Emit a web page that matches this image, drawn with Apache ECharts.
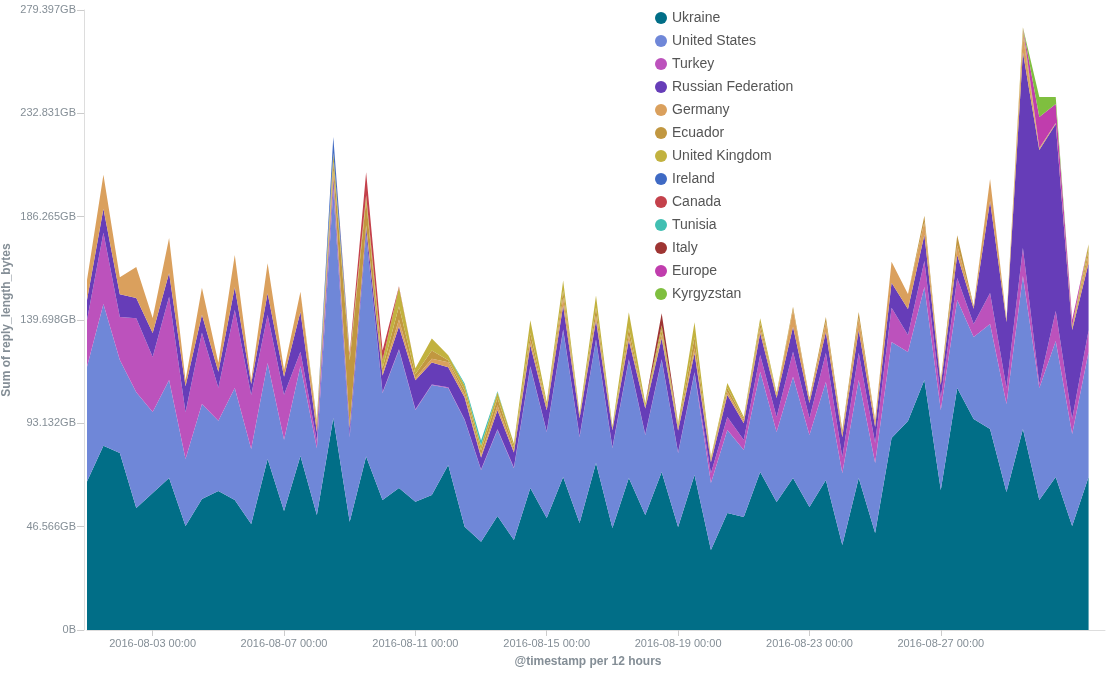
<!DOCTYPE html>
<html lang="en">
<head>
    <meta charset="UTF-8">
    <title>reply_length_bytes by country</title>
    <style>
        html, body { margin: 0; padding: 0; background: #fff; }
        #chart { width: 1109px; height: 676px; }
    </style>
</head>
<body>
<div id="chart"></div>

<script src="https://cdn.jsdelivr.net/npm/echarts@6/dist/echarts.min.js"></script>
<script type="text/javascript">
    // values are in GB (1e9 bytes), one per 12h bucket from 2016-08-01 00:00
    var countries = ['Ukraine', 'United States', 'Turkey', 'Russian Federation', 'Germany', 'Ecuador',
        'United Kingdom', 'Ireland', 'Canada', 'Tunisia', 'Italy', 'Europe', 'Kyrgyzstan'];
    var colors = ['#016e87', '#6f87d8', '#bc52bc', '#663db8', '#daa05d', '#c19740',
        '#c2b23f', '#3f6ac4', '#c4414b', '#41bfb2', '#9e3533', '#c03dad', '#7fbf3f'];

    var ukraine = [71.8, 89.2, 85.6, 59.0, 66.3, 73.6, 50.3, 63.4, 67.3, 62.9,
        51.3, 82.7, 57.6, 84.2, 55.6, 102.6, 52.4, 83.9, 62.9, 68.7,
        62.1, 65.3, 79.8, 50.0, 42.7, 55.2, 43.5, 68.7, 54.2, 74.0,
        51.8, 80.8, 49.4, 73.6, 55.6, 76.5, 49.8, 75.0, 38.7, 56.6,
        54.7, 76.5, 61.9, 73.6, 59.5, 72.6, 41.1, 73.6, 46.9, 92.9,
        101.1, 121.0, 67.7, 117.1, 102.1, 97.3, 66.8, 97.3, 62.9, 74.0,
        50.3, 74.0];
    var unitedStates = [55.6, 68.6, 45.0, 56.1, 39.2, 47.4, 32.4, 46.0, 33.9, 54.2,
        36.3, 46.5, 34.4, 43.6, 32.4, 110.3, 41.0, 107.3, 51.8, 66.8,
        44.4, 53.2, 37.3, 51.6, 34.7, 41.6, 34.8, 58.6, 41.6, 71.1,
        41.6, 59.5, 38.7, 57.1, 38.7, 54.2, 35.8, 49.4, 32.4, 40.2,
        32.4, 48.4, 33.9, 48.9, 34.8, 47.4, 34.8, 47.4, 33.9, 46.5,
        33.4, 45.0, 38.7, 42.6, 39.7, 50.8, 42.6, 74.0, 54.2, 65.8,
        44.5, 60.5];
    var turkey = [22.6, 34.4, 20.8, 35.8, 26.6, 40.2, 22.7, 34.4, 16.0, 37.7,
        26.1, 23.2, 21.8, 6.8, 3.4, 1.9, 0.3, 0.3, 0.3, 0.3,
        0.3, 0.3, 0.3, 0.3, 0.3, 0.3, 0.3, 0.3, 0.3, 0.3,
        0.3, 0.3, 0.3, 0.3, 0.3, 0.3, 0.3, 0.3, 4.8, 6.3,
        4.8, 8.2, 7.3, 12.1, 8.2, 14.0, 7.7, 13.1, 9.7, 16.5,
        8.2, 12.6, 5.8, 10.6, 6.3, 15.0, 7.7, 13.5, 1.9, 14.5,
        7.3, 10.6];
    var russia = [9.7, 11.6, 11.1, 9.7, 11.6, 11.6, 12.6, 8.7, 7.7, 11.1,
        5.3, 10.6, 8.7, 19.4, 4.4, 3.9, 3.9, 3.4, 8.2, 11.1,
        14.0, 10.6, 9.7, 10.6, 5.8, 9.2, 7.3, 10.2, 10.2, 11.6,
        8.7, 9.2, 8.2, 9.2, 12.6, 10.2, 10.6, 9.2, 5.3, 10.6,
        8.2, 10.6, 9.2, 12.1, 7.3, 10.2, 9.7, 11.1, 7.7, 12.1,
        12.6, 12.6, 6.3, 11.1, 7.3, 44.5, 31.9, 94.8, 113.2, 90.5,
        43.1, 32.4];
    var germany = [9.7, 16.5, 8.2, 15.0, 7.3, 16.9, 2.9, 13.1, 4.4, 15.5,
        1.9, 14.5, 3.4, 9.7, 3.4, 3.9, 1.0, 1.0, 1.0, 3.4,
        1.0, 1.9, 2.4, 1.5, 1.0, 2.4, 1.0, 2.4, 1.5, 3.9,
        1.0, 2.4, 0.5, 2.4, 0.5, 1.5, 1.0, 2.4, 1.0, 1.5,
        1.0, 2.4, 1.0, 8.2, 1.5, 4.8, 1.9, 5.8, 2.4, 10.2,
        7.3, 6.3, 1.5, 4.8, 1.0, 10.6, 1.0, 8.2, 0.5, 0.5,
        1.0, 3.9];
    var ecuador = [0, 0, 0, 0, 0, 0, 0, 0, 0, 0,
        0, 0, 0, 0, 1.5, 3.9, 31.9, 12.1, 2.4, 6.3,
        1.9, 3.9, 1.0, 1.9, 2.4, 3.4, 1.5, 3.4, 1.0, 3.4,
        0.5, 3.9, 0.5, 3.4, 0.5, 2.4, 1.0, 5.3, 1.0, 1.9,
        1.0, 2.4, 0.5, 1.5, 1.0, 2.4, 1.5, 2.9, 1.0, 0,
        0, 2.9, 1.0, 4.8, 0.5, 0, 0.5, 2.4, 0.5, 0,
        1.0, 2.4];
    var unitedKingdom = [0, 0, 0, 0, 0, 0, 0, 0, 0, 0,
        0, 0, 0, 0, 1.0, 4.4, 1.9, 2.4, 3.9, 9.2,
        2.9, 5.8, 2.4, 2.4, 2.4, 2.9, 1.9, 6.3, 1.5, 4.8,
        1.0, 5.8, 1.0, 7.7, 1.5, 2.4, 1.5, 7.3, 0.5, 2.4,
        1.0, 2.4, 1.0, 0, 0, 0, 0, 0, 0, 0,
        0, 0, 0, 0, 0, 0, 0, 1.5, 0, 0,
        0, 2.9];
    var ireland = [0, 0, 0, 0, 0, 0, 0, 0, 0, 0,
        0, 0, 0, 0, 0, 7.7, 0, 0, 0, 0,
        0, 0, 0, 0, 0, 0, 0, 0, 0, 0,
        0, 0, 0, 0, 0, 0, 0, 0, 0, 0,
        0, 0, 0, 0, 0, 0, 0, 0, 0, 0,
        0, 0, 0, 0, 0, 0, 0, 0, 0, 0,
        0, 0];
    var canada = [0, 0, 0, 0, 0, 0, 0, 0, 0, 0,
        0, 0, 0, 0, 0, 0, 1.5, 11.1, 4.8, 0.5,
        0, 0, 0, 0, 0, 0, 0, 0, 0, 0,
        0, 0, 0, 0, 0, 0, 0, 0, 0, 0,
        0, 0, 0, 0, 0, 0, 0, 0, 0, 0,
        0, 0, 0, 0, 0, 0, 0, 0, 0, 0,
        0, 0];
    var tunisia = [0, 0, 0, 0, 0, 0, 0, 0, 0, 0,
        0, 0, 0, 0, 0, 0, 0, 0, 0, 0,
        0, 0, 0, 1.0, 2.4, 0.5, 0, 0, 0, 0,
        0, 0, 0, 0, 0, 0, 0, 0, 0, 0,
        0, 0, 0, 0, 0, 0, 0, 0, 0, 0,
        0, 0, 0, 0, 0, 0, 0, 0, 0, 0,
        0, 0];
    var italy = [0, 0, 0, 0, 0, 0, 0, 0, 0, 0,
        0, 0, 0, 0, 0, 0, 0, 0, 0, 0,
        0, 0, 0, 0, 0, 0, 0, 0, 0, 0,
        0, 0, 0, 0, 0, 5.8, 0, 0, 0, 0,
        0, 0, 0, 0, 0, 0, 0, 0, 0, 0,
        0, 0, 0, 0, 0, 0, 0, 0, 0, 0,
        0, 0];
    var europe = [0, 0, 0, 0, 0, 0, 0, 0, 0, 0,
        0, 0, 0, 0, 0, 0, 0, 0, 0, 0,
        0, 0, 0, 0, 0, 0, 0, 0, 0, 0,
        0, 0, 0, 0, 0, 0, 0, 0, 0, 0,
        0, 0, 0, 0, 0, 0, 0, 0, 0, 0,
        0, 0, 0, 0, 0, 0, 0, 0, 15.0, 9.2,
        2.9, 0];
    var kyrgyzstan = [0, 0, 0, 0, 0, 0, 0, 0, 0, 0,
        0, 0, 0, 0, 0, 0, 0, 0, 0, 0,
        0, 0, 0, 0, 0, 0, 0, 0, 0, 0,
        0, 0, 0, 0, 0, 0, 0, 0, 0, 0,
        0, 0, 0, 0, 0, 0, 0, 0, 0, 0,
        0, 0, 0, 0, 0, 0, 0, 0, 9.7, 3.4,
        0, 0];

    var seriesValues = [ukraine, unitedStates, turkey, russia, germany, ecuador,
        unitedKingdom, ireland, canada, tunisia, italy, europe, kyrgyzstan];

    // 12h buckets, 2016-08-01 00:00 .. 2016-09-01 00:00 (axis end, no data)
    var timestamps = [];
    function pad(n) { return n < 10 ? '0' + n : '' + n; }
    for (var i = 0; i <= 62; i++) {
        var day = Math.floor(i / 2) + 1;
        var label = day <= 31 ? '2016-08-' + pad(day) : '2016-09-01';
        timestamps.push(label + (i % 2 === 0 ? ' 00:00' : ' 12:00'));
    }
    // labelled ticks every 4 days from 2016-08-03 to 2016-08-27
    function isTick(index) {
        return index % 8 === 4 && index <= 52;
    }

    var font = '"Liberation Sans", Arial, Helvetica, sans-serif';
    var chart = echarts.init(document.getElementById('chart'));

    var series = countries.map(function (name, k) {
        return {
            name: name,
            type: 'line',
            stack: 'total',
            symbol: 'none',
            showSymbol: false,
            lineStyle: { width: 0, opacity: 0 },
            areaStyle: { color: colors[k], opacity: 1 },
            itemStyle: { color: colors[k] },
            emphasis: { disabled: true },
            data: seriesValues[k]
        };
    });

    var option = {
        animation: false,
        color: colors,
        grid: {
            left: 87,
            right: 4,
            top: 10,
            bottom: 46,
            outerBoundsMode: 'none'
        },
        legend: {
            orient: 'vertical',
            left: 650,
            top: 5,
            icon: 'circle',
            itemWidth: 12,
            itemHeight: 12,
            itemGap: 7,
            data: countries,
            textStyle: {
                fontFamily: font,
                fontSize: 14,
                lineHeight: 16,
                color: '#555'
            }
        },
        xAxis: {
            type: 'category',
            boundaryGap: false,
            data: timestamps,
            name: '@timestamp per 12 hours',
            nameLocation: 'middle',
            nameGap: 26,
            nameMoveOverlap: false,
            nameTextStyle: {
                fontFamily: font,
                fontSize: 12,
                fontWeight: 'bold',
                color: '#848e96',
                padding: [0, 16, 0, 0]
            },
            axisLine: { lineStyle: { color: '#dddddd', width: 1 } },
            axisTick: {
                alignWithLabel: true,
                length: 6,
                interval: function (index) { return isTick(index); },
                lineStyle: { color: '#cccccc' }
            },
            axisLabel: {
                interval: function (index) { return isTick(index); },
                fontFamily: font,
                fontSize: 11,
                color: '#848e96',
                margin: 8
            },
            splitLine: { show: false }
        },
        yAxis: {
            type: 'value',
            min: 0,
            max: 300,
            interval: 50,
            offset: 3,
            name: 'Sum of reply_length_bytes',
            nameLocation: 'middle',
            nameGap: 71,
            nameMoveOverlap: false,
            nameTextStyle: {
                fontFamily: font,
                fontSize: 12,
                fontWeight: 'bold',
                color: '#848e96'
            },
            axisLine: { show: true, lineStyle: { color: '#dddddd', width: 1 } },
            axisTick: { show: true, length: 7, lineStyle: { color: '#cccccc' } },
            axisLabel: {
                fontFamily: font,
                fontSize: 11,
                color: '#848e96',
                margin: 8,
                formatter: function (v) {
                    if (v === 0) return '0B';
                    return (v * 1e9 / 1073741824).toFixed(3) + 'GB';
                }
            },
            splitLine: { show: false }
        },
        series: series
    };

    chart.setOption(option);
</script>
</body>
</html>
